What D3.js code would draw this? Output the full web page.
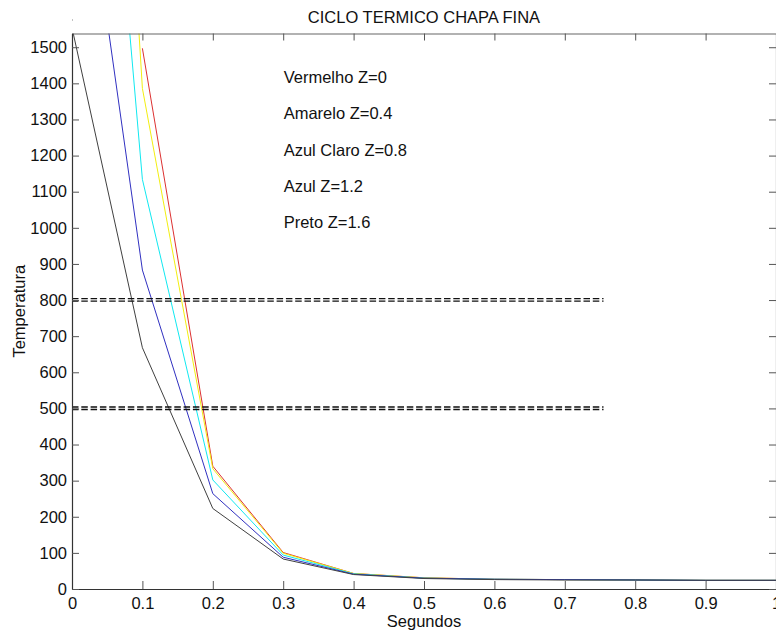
<!DOCTYPE html>
<html>
<head>
<meta charset="utf-8">
<script src="https://cdn.jsdelivr.net/npm/d3@7"></script>
<style>
  html, body { margin: 0; padding: 0; background: #fff; }
  svg { display: block; font-family: "Liberation Sans", Arial, Helvetica, sans-serif; }
</style>
</head>
<body>
<svg id="chart" width="776" height="637"></svg>
<script>
// ---- data ----
const tempo      = [0, 0.1, 0.2, 0.3, 0.4, 0.5, 0.6, 0.7, 0.8, 0.9, 1.0];
const vermelho   = [null, 1497, 340, 101, 43, 31, 27, 26, 25, 24, 24];   // Z=0
const amarelo    = [4550, 1386, 333, 99, 43, 31, 27, 26, 25, 24, 24];    // Z=0.4
const azulClaro  = [3390, 1134, 302, 94, 42, 30, 27, 26, 25, 24, 24];    // Z=0.8
const azul       = [2262, 883, 264, 88, 41, 30, 27, 26, 25, 24, 24];     // Z=1.2
const preto      = [1554, 668, 223, 83, 40, 29, 26, 25, 25, 24, 24];     // Z=1.6
const seriesNames  = ["vermelho", "amarelo", "azulClaro", "azul", "preto"];
const seriesColors = ["#dc3030", "#f2ee10", "#10e8f0", "#3030c0", "#404040"];
const refLinhas  = [804, 797, 504, 497];   // dashed reference levels
const refXFim    = 0.755;
const xTicks     = [0, 0.1, 0.2, 0.3, 0.4, 0.5, 0.6, 0.7, 0.8, 0.9, 1];
const xTickLabels = ["0", "0.1", "0.2", "0.3", "0.4", "0.5", "0.6", "0.7", "0.8", "0.9", "1"];
const yTicks     = [0, 100, 200, 300, 400, 500, 600, 700, 800, 900, 1000, 1100, 1200, 1300, 1400, 1500];
const anotacoes  = ["Vermelho Z=0", "Amarelo Z=0.4", "Azul Claro Z=0.8", "Azul Z=1.2", "Preto Z=1.6"];
const anotY      = [1400, 1300, 1200, 1100, 1000];
const anotX      = 0.30;
const titulo = "CICLO TERMICO CHAPA FINA";
const xTitulo = "Segundos";
const yTitulo = "Temperatura";

// ---- layout ----
const L = 72, R = 776, T = 33.5, B = 589;
const FS = "16.5px";
const svg = d3.select("#chart");
const x = d3.scaleLinear().domain([0, 1]).range([L, R]);
const y = d3.scaleLinear().domain([0, 1538]).range([B, T]);

svg.append("defs").append("clipPath").attr("id", "clip")
  .append("rect").attr("x", L).attr("y", T).attr("width", R - L).attr("height", B - T);

// tiny artifact dot
svg.append("rect").attr("x", 72).attr("y", 19.5).attr("width", 1).attr("height", 1).attr("fill", "#888");

// series
const allSeries = [vermelho, amarelo, azulClaro, azul, preto];
const line = d3.line()
  .defined(d => d[1] != null)
  .x(d => x(d[0])).y(d => y(d[1]));
const g = svg.append("g").attr("clip-path", "url(#clip)");
allSeries.forEach((s, i) => {
  g.append("path")
    .datum(tempo.map((t, j) => [t, s[j]]))
    .attr("class", seriesNames[i])
    .attr("fill", "none")
    .attr("stroke", seriesColors[i])
    .attr("stroke-width", 1)
    .attr("d", line);
});

// dashed reference lines
refLinhas.forEach(v => {
  g.append("line")
    .attr("x1", x(0)).attr("x2", x(refXFim))
    .attr("y1", y(v)).attr("y2", y(v))
    .attr("stroke", "#111").attr("stroke-width", 1.4)
    .attr("stroke-dasharray", "6.5,2.8");
});

// axes
const xb = svg.append("g").attr("transform", `translate(0,${B})`)
  .call(d3.axisBottom(x).tickValues(xTicks).tickFormat((d, i) => xTickLabels[i])
    .tickSizeInner(-8).tickSizeOuter(0).tickPadding(8.5));
const xt = svg.append("g").attr("transform", `translate(0,${T})`)
  .call(d3.axisTop(x).tickValues(xTicks).tickFormat("").tickSizeInner(-7).tickSizeOuter(0));
const yl = svg.append("g").attr("transform", `translate(${L},0)`)
  .call(d3.axisLeft(y).tickValues(yTicks).tickFormat(d3.format("d"))
    .tickSizeInner(-7).tickSizeOuter(0).tickPadding(5));
const yr = svg.append("g").attr("transform", `translate(${R},0)`)
  .call(d3.axisRight(y).tickValues(yTicks).tickFormat("").tickSizeInner(-7).tickSizeOuter(0));
[xb, yl].forEach(a => a.select(".domain").attr("stroke", "#333").attr("stroke-width", 1.2));
[xt, yr].forEach(a => a.select(".domain").attr("stroke", "#666").attr("stroke-width", 1.2));
[xb, xt, yl, yr].forEach(a => {
  a.selectAll(".tick line").attr("stroke", "#555");
  a.selectAll("text").attr("fill", "#111").style("font-size", FS)
    .style("font-family", "'Liberation Sans', Arial, sans-serif");
});

// title and axis labels
svg.append("text").attr("x", (L + R) / 2).attr("y", 22.5)
  .attr("text-anchor", "middle").style("font-size", FS).attr("fill", "#111").text(titulo);
svg.append("text").attr("x", (L + R) / 2).attr("y", 627)
  .attr("text-anchor", "middle").style("font-size", FS).attr("fill", "#111").text(xTitulo);
svg.append("text").attr("transform", `translate(25,${(T + B) / 2}) rotate(-90)`)
  .attr("text-anchor", "middle").style("font-size", FS).attr("fill", "#111").text(yTitulo);

// annotations
anotacoes.forEach((t, i) => {
  svg.append("text").attr("x", x(anotX) + 0.5).attr("y", y(anotY[i]))
    .style("font-size", FS).attr("fill", "#111").text(t);
});
</script>
</body>
</html>
